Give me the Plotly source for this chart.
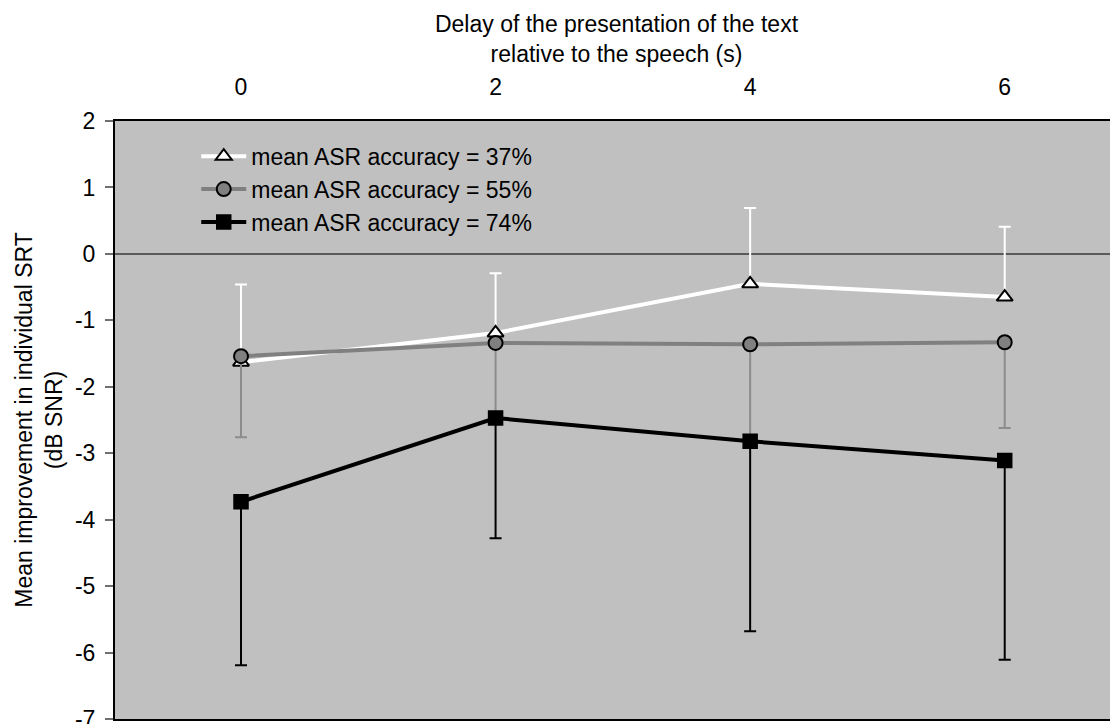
import plotly.graph_objects as go

delays = [0, 2, 4, 6]
x_ticks = [0, 2, 4, 6]
y_ticks = [-7, -6, -5, -4, -3, -2, -1, 0, 1, 2]

names = ["mean ASR accuracy = 37%", "mean ASR accuracy = 55%", "mean ASR accuracy = 74%"]

acc37 = [-1.63, -1.19, -0.45, -0.65]
acc37_err_up = [1.17, 0.90, 1.14, 1.06]

acc55 = [-1.54, -1.34, -1.36, -1.33]
acc55_err_down = [1.22, 1.10, 1.42, 1.29]

acc74 = [-3.73, -2.47, -2.82, -3.11]
acc74_err_down = [2.46, 1.81, 2.86, 3.00]

fig = go.Figure()

fig.add_trace(go.Scatter(
    x=delays, y=acc37, name=names[0], mode="lines+markers",
    line=dict(color="white", width=4),
    marker=dict(symbol="triangle-up", size=14, color="white", line=dict(color="black", width=2)),
    error_y=dict(type="data", symmetric=False, array=acc37_err_up, arrayminus=[0, 0, 0, 0],
                 color="white", thickness=2, width=6),
    legendgroup="a",
))
fig.add_trace(go.Scatter(
    x=delays, y=acc55, name=names[1], mode="lines+markers",
    line=dict(color="#808080", width=4),
    marker=dict(symbol="circle", size=14, color="#808080", line=dict(color="black", width=2)),
    error_y=dict(type="data", symmetric=False, array=[0, 0, 0, 0], arrayminus=acc55_err_down,
                 color="#8c8c8c", thickness=2, width=6),
    legendgroup="b",
))
fig.add_trace(go.Scatter(
    x=delays, y=acc74, name=names[2], mode="lines+markers",
    line=dict(color="black", width=4),
    marker=dict(symbol="square", size=14, color="black", line=dict(color="black", width=1.5)),
    error_y=dict(type="data", symmetric=False, array=[0, 0, 0, 0], arrayminus=acc74_err_down,
                 color="black", thickness=2, width=6),
    legendgroup="c",
))

font = "Liberation Sans, Arial, sans-serif"

fig.update_layout(
    width=1110, height=716,
    margin=dict(l=107, r=0, t=113, b=5),
    paper_bgcolor="white",
    plot_bgcolor="#C0C0C0",
    font=dict(family=font, size=23, color="black"),
    showlegend=True,
    legend=dict(
        x=0.081, y=0.977, xanchor="left", yanchor="top",
        bgcolor="rgba(0,0,0,0)", borderwidth=0,
        font=dict(size=23), tracegroupgap=0, itemwidth=45,
    ),
    xaxis=dict(
        side="top", range=[-0.99, 6.89], tickvals=x_ticks, ticktext=[str(v) for v in x_ticks],
        showgrid=False, zeroline=False, showline=True, linecolor="black", linewidth=2,
        mirror=True, ticks="", ticklabelstandoff=15, automargin=False,
        tickfont=dict(size=23),
        title=dict(text="Delay of the presentation of the text<br>relative to the speech (s)",
                   font=dict(size=23), standoff=5),
    ),
    yaxis=dict(
        range=[-7, 2], tickvals=y_ticks, ticktext=[str(v) for v in y_ticks],
        showgrid=False, zeroline=True, zerolinecolor="#5a5a5a", zerolinewidth=1.5,
        showline=True, linecolor="black", linewidth=2, mirror=False,
        ticks="outside", ticklen=8, tickcolor="#707070", tickwidth=1.5,
        ticklabelstandoff=5, ticklabeloverflow="allow", automargin=False,
        tickfont=dict(size=23),
        title=dict(text="Mean improvement in individual SRT<br>(dB SNR)",
                   font=dict(size=23), standoff=6),
    ),
)

fig.write_html("out.html")
